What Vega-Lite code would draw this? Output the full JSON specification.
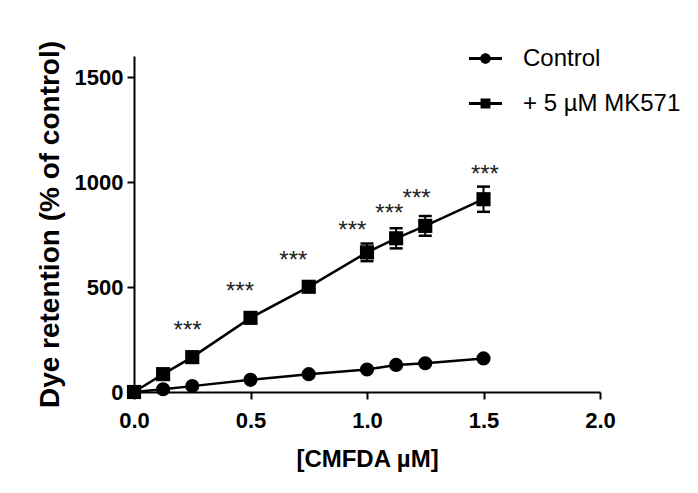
{
  "$schema": "https://vega.github.io/schema/vega-lite/v6.json",
  "width": 466,
  "height": 336,
  "autosize": "none",
  "padding": {"left": 134, "top": 56, "right": 98, "bottom": 101},
  "background": "white",
  "config": {
    "view": {"stroke": null},
    "font": "Liberation Sans",
    "axis": {
      "grid": false,
      "domainColor": "black",
      "domainWidth": 2,
      "tickColor": "black",
      "tickWidth": 2,
      "tickSize": 7,
      "labelFont": "Liberation Sans",
      "labelFontWeight": "bold",
      "labelFontSize": 22,
      "labelColor": "black",
      "labelOverlap": false,
      "labelFlush": false,
      "titleFont": "Liberation Sans",
      "titleFontWeight": "bold",
      "titleColor": "black"
    }
  },
  "datasets": {
    "pts": [
      {"series": "Control", "x": 0, "y": 0},
      {"series": "Control", "x": 0.125, "y": 13},
      {"series": "Control", "x": 0.25, "y": 28},
      {"series": "Control", "x": 0.5, "y": 58},
      {"series": "Control", "x": 0.75, "y": 85},
      {"series": "Control", "x": 1.0, "y": 107},
      {"series": "Control", "x": 1.125, "y": 129},
      {"series": "Control", "x": 1.25, "y": 137},
      {"series": "Control", "x": 1.5, "y": 160},
      {"series": "+ 5 µM MK571", "x": 0, "y": 0},
      {"series": "+ 5 µM MK571", "x": 0.125, "y": 85},
      {"series": "+ 5 µM MK571", "x": 0.25, "y": 166},
      {"series": "+ 5 µM MK571", "x": 0.5, "y": 353},
      {"series": "+ 5 µM MK571", "x": 0.75, "y": 501},
      {"series": "+ 5 µM MK571", "x": 1.0, "y": 665},
      {"series": "+ 5 µM MK571", "x": 1.125, "y": 732},
      {"series": "+ 5 µM MK571", "x": 1.25, "y": 791},
      {"series": "+ 5 µM MK571", "x": 1.5, "y": 918}
    ],
    "errs": [
      {"x": 1.0, "lo": 623, "hi": 707},
      {"x": 1.125, "lo": 684, "hi": 780},
      {"x": 1.25, "lo": 744, "hi": 838},
      {"x": 1.5, "lo": 858, "hi": 978}
    ],
    "stars": [
      {"x": 0.23, "y": 300, "label": "***"},
      {"x": 0.455, "y": 487, "label": "***"},
      {"x": 0.684, "y": 635, "label": "***"},
      {"x": 0.937, "y": 777, "label": "***"},
      {"x": 1.096, "y": 858, "label": "***"},
      {"x": 1.213, "y": 929, "label": "***"},
      {"x": 1.506, "y": 1045, "label": "***"}
    ]
  },
  "resolve": {"scale": {"shape": "independent"}, "legend": {"shape": "independent"}},
  "layer": [
    {
      "data": {"name": "errs"},
      "mark": {"type": "rule", "color": "black", "strokeWidth": 2},
      "encoding": {
        "x": {"field": "x", "type": "quantitative", "scale": {"domain": [0, 2]}},
        "y": {"field": "lo", "type": "quantitative"},
        "y2": {"field": "hi"}
      }
    },
    {
      "data": {"name": "errs"},
      "mark": {"type": "tick", "orient": "horizontal", "color": "black", "size": 13, "thickness": 2.5, "opacity": 1},
      "encoding": {
        "x": {"field": "x", "type": "quantitative"},
        "y": {"field": "lo", "type": "quantitative"}
      }
    },
    {
      "data": {"name": "errs"},
      "mark": {"type": "tick", "orient": "horizontal", "color": "black", "size": 13, "thickness": 2.5, "opacity": 1},
      "encoding": {
        "x": {"field": "x", "type": "quantitative"},
        "y": {"field": "hi", "type": "quantitative"}
      }
    },
    {
      "data": {"name": "pts"},
      "mark": {"type": "line", "color": "black", "strokeWidth": 2.5},
      "encoding": {
        "x": {
          "field": "x", "type": "quantitative",
          "scale": {"domain": [0, 2]},
          "axis": {"values": [0, 0.5, 1, 1.5, 2], "format": ".1f", "title": "[CMFDA µM]", "titleFontSize": 24, "labelPadding": 11, "titlePadding": 16}
        },
        "y": {
          "field": "y", "type": "quantitative",
          "scale": {"domain": [0, 1500]},
          "axis": {"values": [0, 500, 1000, 1500], "format": "d", "title": "Dye retention (% of control)", "titleFontSize": 28, "labelPadding": 4, "titlePadding": 10}
        },
        "detail": {"field": "series"}
      }
    },
    {
      "data": {"name": "pts"},
      "mark": {"type": "point", "filled": true, "color": "black", "opacity": 1, "size": 200},
      "encoding": {
        "x": {"field": "x", "type": "quantitative"},
        "y": {"field": "y", "type": "quantitative"},
        "shape": {
          "field": "series", "type": "nominal",
          "scale": {"domain": ["Control", "+ 5 µM MK571"], "range": ["circle", "square"]},
          "legend": null
        }
      }
    },
    {
      "data": {"name": "pts"},
      "mark": {"type": "point", "filled": true, "color": "black", "opacity": 0, "size": 10},
      "encoding": {
        "x": {"field": "x", "type": "quantitative"},
        "y": {"field": "y", "type": "quantitative"},
        "shape": {
          "field": "series", "type": "nominal",
          "scale": {
            "domain": ["Control", "+ 5 µM MK571"],
            "range": [
              "M-1,-0.09H1V0.09H-1Z M0.32,0A0.32,0.32 0 1,1 -0.32,0A0.32,0.32 0 1,1 0.32,0Z",
              "M-1,-0.09H1V0.09H-1Z M-0.3,-0.3H0.3V0.3H-0.3Z"
            ]
          },
          "legend": {
            "orient": "none",
            "legendX": 334,
            "legendY": -15,
            "title": null,
            "padding": 0,
            "symbolSize": 1089,
            "labelFont": "Liberation Sans",
            "labelFontSize": 24,
            "labelColor": "black",
            "labelOffset": 20,
            "rowPadding": 15,
            "symbolFillColor": "black",
            "symbolStrokeColor": "black",
            "symbolOpacity": 1
          }
        }
      }
    },
    {
      "data": {"name": "stars"},
      "mark": {"type": "text", "fontSize": 24, "font": "Liberation Sans", "color": "#222", "baseline": "alphabetic", "dy": 9},
      "encoding": {
        "x": {"field": "x", "type": "quantitative"},
        "y": {"field": "y", "type": "quantitative"},
        "text": {"field": "label"}
      }
    }
  ]
}
